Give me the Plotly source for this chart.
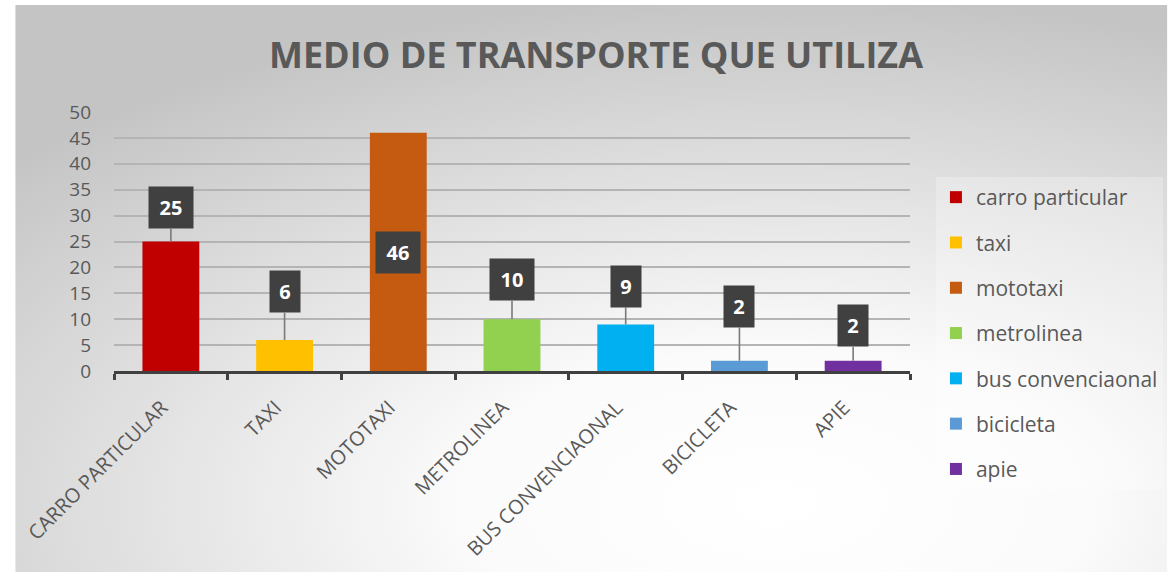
import base64
import plotly.graph_objects as go

# ---- data ----
categories = ["CARRO PARTICULAR", "TAXI", "MOTOTAXI", "METROLINEA",
              "BUS CONVENCIAONAL", "BICICLETA", "APIE"]
series_names = ["carro particular", "taxi", "mototaxi", "metrolinea",
                "bus convenciaonal", "bicicleta", "apie"]
values = [25, 6, 46, 10, 9, 2, 2]
y_ticks = [0, 5, 10, 15, 20, 25, 30, 35, 40, 45, 50]

# ---- styles ----
colors = ["#C00000", "#FFC000", "#C55A11", "#92D050", "#00B0F0", "#5B9BD5", "#7030A0"]
# label box centre (in y-axis units) and whether a leader line is drawn
label_pos = [31.5, 15.3, 22.9, 17.6, 16.4, 12.5, 8.7]
label_leader = [True, True, False, True, True, True, True]

FONT = "Open Sans"
TXT = "#595959"

fig = go.Figure()
for cat, name, v, c in zip(categories, series_names, values, colors):
    fig.add_trace(go.Bar(
        x=[cat], y=[v], name=name, marker=dict(color=c, line=dict(width=0)),
        width=0.5, legendgroup=name, hoverinfo="x+y",
    ))

annotations = []
for cat, v, ly, lead in zip(categories, values, label_pos, label_leader):
    w = 28 if len(str(v)) > 1 else 14
    common = dict(
        text=f"<b>{v}</b>", font=dict(family=FONT, size=20, color="white"),
        bgcolor="#404040", borderpad=8, width=w, height=25,
        xref="x", yref="y",
    )
    if lead:
        annotations.append(dict(
            x=cat, y=v, showarrow=True, arrowhead=0, arrowwidth=1.6,
            arrowcolor="#7A7A7A", axref="pixel", ax=0, ayref="y", ay=ly,
            standoff=0, **common))
    else:
        annotations.append(dict(x=cat, y=ly, showarrow=False,
                                yanchor="middle", **common))

# background radial gradient (svg)
svg = (
    '<svg xmlns="http://www.w3.org/2000/svg" width="1155" height="567" '
    'preserveAspectRatio="none" viewBox="0 0 1155 567">'
    '<defs><radialGradient id="g" cx="0.66" cy="0.88" r="0.9" '
    'gradientUnits="objectBoundingBox">'
    '<stop offset="0" stop-color="#ffffff"/>'
    '<stop offset="0.3" stop-color="#fbfbfb"/>'
    '<stop offset="1" stop-color="#c4c4c4"/>'
    '</radialGradient></defs>'
    '<rect x="0" y="0" width="1155" height="567" fill="url(#g)"/></svg>'
)
src = "data:image/svg+xml;base64," + base64.b64encode(svg.encode()).decode()

L, R, T, B = 114, 912, 112, 371
pw, ph = R - L, B - T

fig.update_layout(
    width=1175, height=577,
    margin=dict(l=L, r=1175 - R, t=T, b=577 - B),
    paper_bgcolor="white", plot_bgcolor="rgba(0,0,0,0)",
    barmode="overlay",
    font=dict(family=FONT, color=TXT),
    title=dict(text="<b>MEDIO DE TRANSPORTE QUE UTILIZA</b>",
               font=dict(family=FONT, size=36, color=TXT),
               x=596 / 1175, xanchor="center", y=1 - 55 / 577, yanchor="middle"),
    xaxis=dict(
        categoryorder="array", categoryarray=categories,
        tickangle=-45, tickfont=dict(family=FONT, size=20, color=TXT),
        showline=True, linecolor="#404040", linewidth=3,
        ticks="outside", tickson="boundaries", ticklen=6, tickwidth=3,
        tickcolor="#404040", showgrid=False, ticklabelstandoff=14,
        ticklabelshift=-9,
    ),
    yaxis=dict(
        range=[0, 50], tickvals=y_ticks, showline=False,
        gridcolor="#B4B4B4", gridwidth=1.5, zeroline=False,
        tickfont=dict(family=FONT, size=19, color=TXT),
        ticklabelstandoff=22,
    ),
    legend=dict(
        x=(938 - L) / pw, xanchor="left", y=(B - 177) / ph, yanchor="top",
        font=dict(family=FONT, size=21, color=TXT),
        bgcolor="rgba(255,255,255,0.25)", tracegroupgap=15,
        itemwidth=30, maxheight=420,
    ),
    annotations=annotations,
    images=[dict(
        source=src, xref="paper", yref="paper",
        x=(15 - L) / pw, y=(B - 5) / ph, sizex=(1170 - 15) / pw,
        sizey=(572 - 5) / ph, xanchor="left", yanchor="top",
        sizing="stretch", layer="below",
    )],
    showlegend=True,
)

fig.write_html(
    "out.html",
    config={"displayModeBar": False},
    post_script="document.body.style.margin='0';document.body.style.overflow='hidden';",
)
